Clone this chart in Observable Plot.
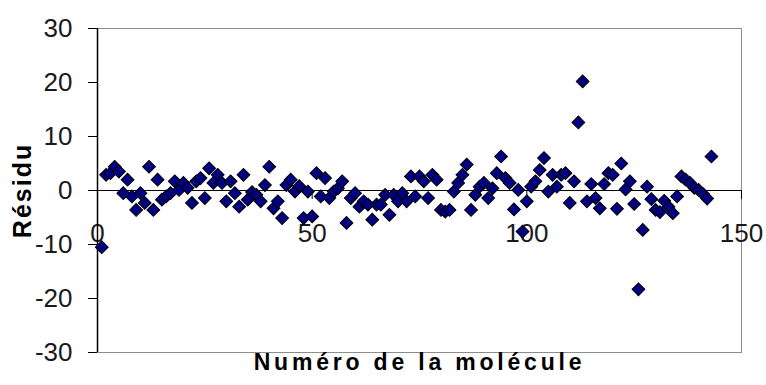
<!DOCTYPE html>
<html><head><meta charset="utf-8">
<script src="https://cdn.jsdelivr.net/npm/d3@7"></script>
<script src="https://cdn.jsdelivr.net/npm/@observablehq/plot@0.6"></script>
<style>body{margin:0;background:#fff}</style>
</head><body><div id="chart"></div>
<script>
const residus = [
  -10.5, 2.9, 3.2, 4.4, 3.5, -0.5, 2.0, -1.1, -3.6, -0.5,
  -2.3, 4.4, -3.6, 2.0, -1.7, -1.1, -0.5, 1.7, 0.1, 1.4,
  0.5, -2.3, 1.7, 2.3, -1.4, 4.1, 1.4, 2.9, 1.4, -2.0,
  1.7, -0.5, -3.0, 2.9, -1.7, -0.3, -0.8, -2.0, 1.0, 4.4,
  -3.3, -2.0, -5.1, 1.0, 2.0, -0.2, 0.8, -5.1, -0.2, -4.8,
  3.2, -1.1, 2.3, -1.4, -0.2, 0.4, 1.7, -6.0, -1.4, -0.5,
  -3.0, -2.0, -2.6, -5.4, -2.6, -2.6, -0.8, -4.5, -0.8, -2.0,
  -0.5, -2.0, 2.6, -1.1, 2.6, 1.7, -1.4, 2.9, 2.0, -3.6,
  -3.9, -3.6, -0.2, 1.4, 2.9, 4.8, -3.6, -0.8, 0.7, 1.4,
  -1.4, 0.4, 3.2, 6.3, 2.3, 1.4, -3.5, 0.1, -7.6, -2.0,
  0.7, 1.7, 3.8, 6.0, -0.2, 2.9, 0.7, 2.9, 3.2, -2.3,
  1.7, 12.6, 20.2, -2.0, 1.2, -1.4, -3.3, 1.2, 3.2, 2.9,
  -3.4, 5.0, 0.2, 1.7, -2.5, -18.3, -7.3, 0.7, -1.6, -3.6,
  -4.0, -1.9, -3.0, -4.2, -1.1, 2.6, 2.0, 1.4, 0.5, 0.1,
  -0.6, -1.5, 6.3
];
const molecules = residus.map((_, i) => i + 1);
const xTicks = [0, 50, 100, 150];
const yTicks = [-30, -20, -10, 0, 10, 20, 30];
const yLabel = "Résidu";
const xLabel = "Numéro de la molécule";

const data = molecules.map((m, i) => ({m, r: residus[i]}));
const font = "'Liberation Sans', Arial, sans-serif";

const chart = Plot.plot({
  width: 766, height: 385,
  marginLeft: 97, marginRight: 25, marginTop: 28, marginBottom: 33,
  style: {fontFamily: font, background: "#fff", overflow: "visible"},
  x: {domain: [0, 150], axis: null},
  y: {domain: [-30, 30], axis: null},
  marks: [
    Plot.frame({stroke: "#8c8c8c"}),
    Plot.ruleY([0], {stroke: "#000", strokeWidth: 1.2}),
    Plot.ruleX(xTicks, {x: d => d, y1: 0, y2: 0, insetBottom: -9, stroke: "#000"}),
    Plot.text(xTicks, {x: d => d, y: 0, text: d => String(d), dy: 43, fontSize: 26, fill: "#1a1a1a"}),
    Plot.ruleY(yTicks, {y: d => d, x1: 0, x2: 0, insetLeft: -9, stroke: "#000"}),
    Plot.text(yTicks, {x: 0, y: d => d, text: d => String(d), dx: -25, textAnchor: "end", fontSize: 26, fill: "#1a1a1a"}),
    Plot.ruleX([0], {stroke: "#000", strokeWidth: 1.5}),
    Plot.dot(data, {x: "m", y: "r", symbol: "square", r: 5.1, rotate: 45, fill: "#000080", stroke: "#000", strokeWidth: 1}),
    Plot.text([yLabel], {text: d => d, frameAnchor: "left", textAnchor: "middle", dx: -75, rotate: -90, fontWeight: "bold", fontSize: 25, fill: "#000"}),
    Plot.text([xLabel], {text: d => d, frameAnchor: "bottom", dy: 17, fontWeight: "bold", fontSize: 23, fill: "#000"})
  ]
});
d3.select(chart).selectAll("text").each(function() {
  if (this.textContent === xLabel) d3.select(this).attr("letter-spacing", "3.8px");
  if (this.textContent === yLabel) d3.select(this).attr("letter-spacing", "2px");
});
document.getElementById("chart").appendChild(chart);
</script>
</body></html>
